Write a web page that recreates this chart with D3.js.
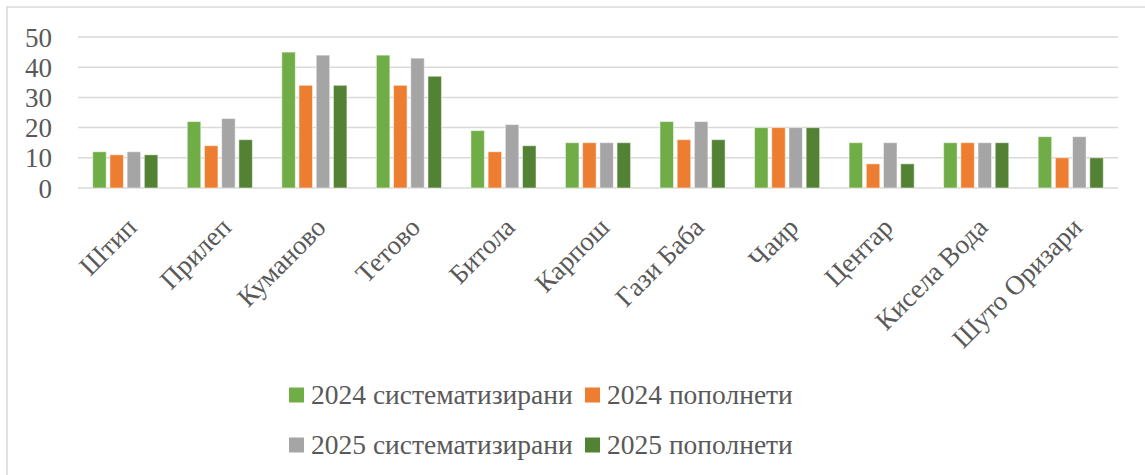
<!DOCTYPE html>
<html>
<head>
<meta charset="utf-8">
<script src="https://cdn.jsdelivr.net/npm/d3@7"></script>
<style>
  html, body { margin: 0; padding: 0; background: #fff; }
  svg { display: block; }
</style>
</head>
<body>
<svg id="chart" width="1145" height="475"></svg>
<script>
const categories = ["Штип", "Прилеп", "Куманово", "Тетово", "Битола", "Карпош", "Гази Баба", "Чаир", "Центар", "Кисела Вода", "Шуто Оризари"];
const seriesNames = ["2024 систематизирани", "2024 пополнети", "2025 систематизирани", "2025 пополнети"];
const sys2024 = [12, 22, 45, 44, 19, 15, 22, 20, 15, 15, 17];
const pop2024 = [11, 14, 34, 34, 12, 15, 16, 20, 8, 15, 10];
const sys2025 = [12, 23, 44, 43, 21, 15, 22, 20, 15, 15, 17];
const pop2025 = [11, 16, 34, 37, 14, 15, 16, 20, 8, 15, 10];
const yTicks = [0, 10, 20, 30, 40, 50];
const colors = ["#70AD47", "#ED7D31", "#A5A5A5", "#548235"];

const seriesValues = [sys2024, pop2024, sys2025, pop2025];
const FONT = "'Liberation Serif', 'DejaVu Serif', serif";
const TEXT = "#595959";

const svg = d3.select("#chart");

// outer frame
svg.append("rect")
  .attr("x", 7).attr("y", 7).attr("width", 1160).attr("height", 490)
  .attr("fill", "none").attr("stroke", "#D9D9D9").attr("stroke-width", 1.5);

const plotLeft = 78, plotRight = 1118, plotTop = 37, plotBottom = 188;

const x0 = d3.scaleBand().domain(categories).range([plotLeft, plotRight]).paddingInner(0).paddingOuter(0);
const x1 = d3.scaleBand().domain(seriesNames).range([0, x0.bandwidth()]).paddingInner(0.215).paddingOuter(0.855);
const y = d3.scaleLinear().domain([0, 50]).range([plotBottom, plotTop]);

// gridlines
svg.append("g").selectAll("line").data(yTicks).join("line")
  .attr("x1", plotLeft).attr("x2", plotRight)
  .attr("y1", d => y(d)).attr("y2", d => y(d))
  .attr("stroke", "#D9D9D9").attr("stroke-width", 1.5);

// y axis labels
const yAxis = d3.axisLeft(y).tickValues(yTicks).tickSize(0).tickPadding(0);
const gy = svg.append("g").attr("transform", `translate(52,0)`).call(yAxis);
gy.select(".domain").remove();
gy.selectAll("text")
  .attr("font-family", FONT).attr("font-size", 27).attr("fill", TEXT)
  .attr("dy", "0.34em");

// bars
const groups = svg.append("g").selectAll("g").data(categories).join("g")
  .attr("transform", d => `translate(${x0(d)},0)`);
groups.selectAll("rect")
  .data((c, i) => seriesNames.map((s, j) => ({ s, j, v: seriesValues[j][i] })))
  .join("rect")
  .attr("x", d => x1(d.s))
  .attr("width", x1.bandwidth())
  .attr("y", d => y(d.v))
  .attr("height", d => y(0) - y(d.v))
  .attr("fill", d => colors[d.j])
  .attr("stroke", "#ffffff").attr("stroke-opacity", 0.5).attr("stroke-width", 1);

// x axis labels (rotated)
const xAxis = d3.axisBottom(x0).tickSize(0).tickPadding(0);
const gx = svg.append("g").attr("transform", `translate(0,${plotBottom})`).call(xAxis);
gx.select(".domain").remove();
gx.selectAll("text")
  .attr("font-family", FONT).attr("font-size", 27).attr("fill", TEXT)
  .attr("text-anchor", "end")
  .attr("dy", 0)
  .attr("y", 0)
  .attr("transform", "translate(13,41) rotate(-45)");

// legend
const legendItems = [
  { name: seriesNames[0], color: colors[0], x: 289, y: 395 },
  { name: seriesNames[1], color: colors[1], x: 585, y: 395 },
  { name: seriesNames[2], color: colors[2], x: 289, y: 445 },
  { name: seriesNames[3], color: colors[3], x: 585, y: 445 }
];
const lg = svg.append("g").selectAll("g").data(legendItems).join("g")
  .attr("transform", d => `translate(${d.x},${d.y})`);
lg.append("rect").attr("x", 0).attr("y", -7.5).attr("width", 15).attr("height", 15)
  .attr("fill", d => d.color);
lg.append("text").attr("x", 22).attr("y", 0).attr("dy", "0.34em")
  .attr("font-family", FONT).attr("font-size", 27.5).attr("fill", TEXT)
  .text(d => d.name);
</script>
</body>
</html>
